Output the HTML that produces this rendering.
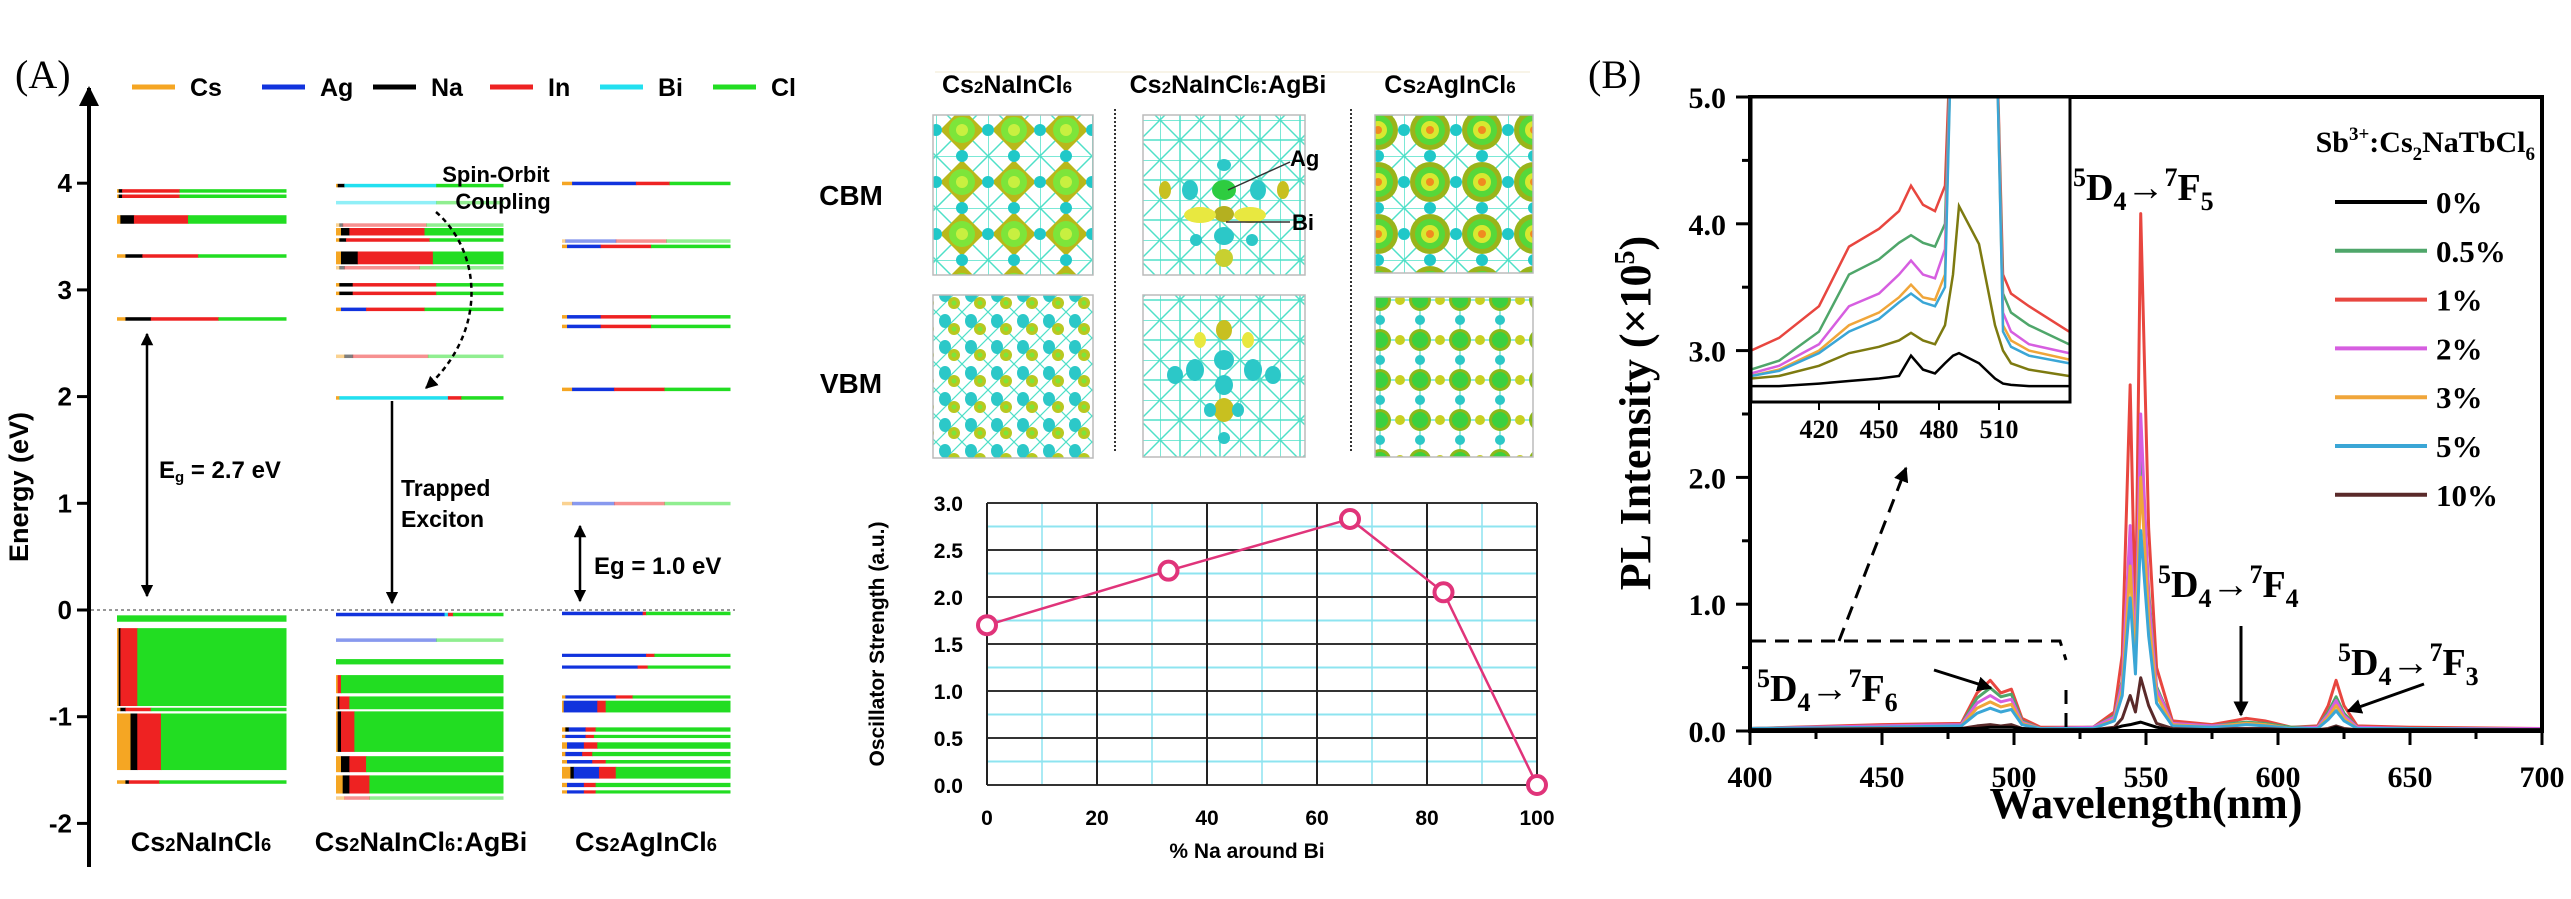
<!DOCTYPE html>
<html><head><meta charset="utf-8"><style>
html,body{margin:0;padding:0;background:#fff}
svg{display:block}
.a{font-family:"Liberation Sans",Arial,sans-serif;font-weight:bold}
.t{font-family:"Liberation Serif","Times New Roman",serif;font-weight:bold}
</style></head><body>
<svg id="fig" width="2571" height="899" viewBox="0 0 2571 899" xmlns="http://www.w3.org/2000/svg">
<defs>
<marker id="ah" viewBox="0 0 10 10" refX="9" refY="5" markerWidth="5" markerHeight="5" orient="auto-start-reverse"><path d="M0,0L10,5L0,10z" fill="#000"/></marker>
<pattern id="latt" width="40" height="40" patternUnits="userSpaceOnUse"><path d="M0 0H40M0 0V40M0 0L40 40M40 0L0 40M20 0V40M0 20H40" stroke="#4fe0c8" stroke-width="1.5" fill="none"/></pattern>
<pattern id="cbm1" width="52" height="52" patternUnits="userSpaceOnUse"><rect width="52" height="52" fill="#fff"/><path d="M0 0H52M0 0V52M0 0L52 52M52 0L0 52" stroke="#4fe0c8" stroke-width="1.5"/><path d="M26 4L48 26L26 48L4 26z" fill="#b9b81a"/><circle cx="26" cy="26" r="13" fill="#7de53a"/><circle cx="26" cy="26" r="6" fill="#c8f040"/><circle cx="0" cy="26" r="6" fill="#20c8c8"/><circle cx="52" cy="26" r="6" fill="#20c8c8"/><circle cx="26" cy="0" r="6" fill="#20c8c8"/><circle cx="26" cy="52" r="6" fill="#20c8c8"/></pattern>
<pattern id="vbm1" width="26" height="26" patternUnits="userSpaceOnUse"><rect width="26" height="26" fill="#fff"/><path d="M0 0L26 26M26 0L0 26" stroke="#4fe0c8" stroke-width="1.2"/><ellipse cx="9" cy="9" rx="6" ry="7" fill="#2cc8c8"/><ellipse cx="18" cy="17" rx="6" ry="6" fill="#b9c820"/><circle cx="18" cy="17" r="2.5" fill="#7de53a"/></pattern>
<pattern id="cbm3" width="52" height="52" patternUnits="userSpaceOnUse"><rect width="52" height="52" fill="#fff"/><path d="M0 0H52M0 0V52M0 0L52 52M52 0L0 52" stroke="#4fe0c8" stroke-width="1.5"/><circle cx="26" cy="26" r="20" fill="#9ab41a"/><circle cx="26" cy="26" r="15" fill="#56d83a"/><circle cx="26" cy="26" r="9" fill="#d8e830"/><circle cx="26" cy="26" r="4" fill="#f08a20"/><circle cx="0" cy="26" r="6" fill="#20c8c8"/><circle cx="52" cy="26" r="6" fill="#20c8c8"/><circle cx="26" cy="0" r="6" fill="#20c8c8"/><circle cx="26" cy="52" r="6" fill="#20c8c8"/></pattern>
<pattern id="vbm3" width="40" height="40" patternUnits="userSpaceOnUse"><rect width="40" height="40" fill="#fff"/><path d="M0 20H40M20 0V40" stroke="#4fe0c8" stroke-width="1.2"/><circle cx="20" cy="20" r="11" fill="#8cb81a"/><circle cx="20" cy="20" r="8" fill="#3cd040"/><circle cx="0" cy="20" r="5" fill="#c8d020"/><circle cx="40" cy="20" r="5" fill="#c8d020"/><circle cx="20" cy="0" r="5" fill="#2cc8c8"/><circle cx="20" cy="40" r="5" fill="#2cc8c8"/></pattern>
<clipPath id="insetClip"><rect x="1751" y="97" width="319" height="305"/></clipPath>
<clipPath id="mainClip"><rect x="1750" y="97" width="792" height="640"/></clipPath>
</defs>
<g id="panelA"></g>
<g id="panelM"></g>
<g id="panelB"></g>
</svg>
<script>
// ===== Panel A data =====
const aTicks = [-2,-1,0,1,2,3,4];
const legendNames = ["Cs","Ag","Na","In","Bi","Cl"];
const legendColors = ["#f5a623","#1133dd","#000000","#ee2222","#22e0f0","#22dd22"];
// level: [Etop, Ebot, cs, na, ag, bi, in, cl, opacity]
const col1Levels = [
[3.93,3.93,.01,.02,0,0,.34,.63,1],[3.88,3.88,.01,.02,0,0,.34,.63,1],[3.70,3.62,.02,.08,0,0,.32,.58,1],
[3.32,3.32,.05,.10,0,0,.33,.52,1],[2.73,2.73,.05,.15,0,0,.40,.40,1],
[-0.05,-0.11,0,0,0,0,0,1,1],[-0.17,-0.90,.01,.01,0,0,.10,.88,1],[-0.93,-0.93,.02,.03,0,0,.15,.80,1],
[-0.97,-1.50,.08,.04,0,0,.14,.74,1],[-1.61,-1.61,.05,.02,0,0,.18,.75,1]];
const col2Levels = [
[3.98,3.98,.01,.04,0,.55,0,.40,1],[3.82,3.82,0,0,0,.6,0,.4,.5],[3.61,3.61,.02,.02,0,0,.5,.46,.5],
[3.58,3.51,.03,.05,0,0,.45,.47,1],[3.47,3.47,.02,.04,0,0,.5,.44,1],[3.36,3.24,.03,.10,0,0,.45,.42,1],
[3.21,3.21,.02,.03,0,0,.45,.5,.5],[3.05,3.05,.02,.08,0,0,.5,.4,1],[2.97,2.97,.02,.08,0,0,.5,.4,1],
[2.82,2.82,.03,0,.15,0,.35,.47,1],[2.38,2.38,.05,.05,0,0,.45,.45,.5],[1.99,1.99,.02,0,0,.65,.08,.25,1],
[-0.04,-0.04,0,0,.65,.02,.03,.30,1],[-0.28,-0.28,0,0,.6,0,0,.4,.5],[-0.46,-0.51,0,0,0,0,0,1,1],
[-0.61,-0.78,.01,0,0,0,.02,.97,1],[-0.81,-0.93,.01,.01,0,0,.06,.92,1],[-0.95,-1.33,.01,.02,0,0,.08,.89,1],
[-1.37,-1.52,.03,.05,0,0,.1,.82,1],[-1.55,-1.72,.04,.04,0,0,.12,.8,1],[-1.76,-1.76,.05,0,0,0,.15,.8,.5]];
const col3Levels = [
[4.00,4.00,.06,0,.38,0,.2,.36,1],[3.46,3.46,.02,0,.3,0,.3,.38,.5],[3.41,3.41,.03,0,.2,0,.3,.47,1],
[2.75,2.75,.03,0,.2,0,.3,.47,1],[2.66,2.66,.03,0,.2,0,.3,.47,1],[2.07,2.07,.06,0,.25,0,.3,.39,1],
[1.00,1.00,.06,0,.25,0,.3,.39,.5],
[-0.03,-0.03,0,0,.48,0,.02,.5,1],[-0.41,-0.44,0,0,.5,0,.05,.45,1],[-0.52,-0.55,0,0,.45,0,.06,.49,1],
[-0.80,-0.83,.02,0,.3,0,.1,.58,1],[-0.85,-0.96,.01,0,.2,0,.05,.74,1],[-1.10,-1.14,.02,.02,.1,0,.06,.8,1],
[-1.17,-1.20,.02,0,.12,0,.05,.81,1],[-1.24,-1.30,.03,0,.1,0,.08,.79,1],[-1.33,-1.37,.02,0,.1,0,.06,.82,1],
[-1.42,-1.44,.03,0,.15,0,.08,.74,1],[-1.47,-1.58,.05,.02,.15,0,.1,.68,1],[-1.62,-1.66,.03,0,.1,0,.07,.8,1],
[-1.69,-1.72,.03,0,.1,0,.07,.8,1]];
const segColors = ["#f5a623","#000000","#1133dd","#22e0f0","#ee2222","#22dd22"];

// ===== Oscillator data =====
const oscX = [0,33,66,83,100];
const oscY = [1.7,2.28,2.83,2.05,0];
const oscXTicks = [0,20,40,60,80,100];
const oscYTicks = ["0.0","0.5","1.0","1.5","2.0","2.5","3.0"];

// ===== Panel B data =====
const wl = [400,450,480,486,491,495,499,503,510,530,538,541,544,546,548,551,554,560,575,583,588,595,605,615,619,622,625,630,650,700];
const s1 = [0.02,0.05,0.06,0.30,0.40,0.30,0.33,0.10,0.03,0.03,0.15,0.60,2.73,0.8,4.08,1.6,0.5,0.08,0.05,0.08,0.10,0.08,0.03,0.04,0.20,0.40,0.20,0.04,0.03,0.02];
const s05 = [0.02,0.04,0.05,0.26,0.34,0.27,0.29,0.08,0.02,0.03,0.12,0.40,1.55,0.6,2.35,1.1,0.35,0.06,0.04,0.06,0.07,0.06,0.03,0.03,0.15,0.27,0.14,0.03,0.02,0.02];
const s2 = [0.02,0.04,0.05,0.22,0.28,0.23,0.25,0.07,0.02,0.03,0.11,0.38,1.62,0.55,2.5,1.05,0.33,0.06,0.04,0.05,0.06,0.05,0.02,0.03,0.13,0.24,0.12,0.03,0.02,0.02];
const s3 = [0.02,0.03,0.04,0.18,0.23,0.19,0.21,0.06,0.02,0.02,0.09,0.32,1.30,0.5,2.0,0.9,0.28,0.05,0.03,0.05,0.06,0.05,0.02,0.02,0.11,0.20,0.10,0.02,0.02,0.01];
const s5 = [0.02,0.03,0.04,0.14,0.18,0.15,0.17,0.05,0.02,0.02,0.08,0.28,1.05,0.45,1.58,0.75,0.22,0.04,0.03,0.04,0.05,0.04,0.02,0.02,0.09,0.16,0.08,0.02,0.02,0.01];
const s10 = [0.01,0.02,0.02,0.04,0.05,0.04,0.05,0.02,0.01,0.01,0.03,0.10,0.28,0.15,0.42,0.2,0.06,0.02,0.01,0.02,0.02,0.02,0.01,0.01,0.02,0.04,0.02,0.01,0.01,0.01];
const s0 = [0.01,0.01,0.02,0.02,0.03,0.03,0.03,0.02,0.01,0.01,0.02,0.04,0.05,0.06,0.07,0.05,0.03,0.01,0.01,0.01,0.01,0.01,0.01,0.01,0.01,0.03,0.01,0.01,0.01,0.01];
const seriesLabels = ["0%","0.5%","1%","2%","3%","5%","10%"];
const seriesColors = ["#000000","#4fa66a","#e8463f","#d65ee0","#f0a63a","#3aa6d6","#5a2a2a"];
const bXTicks = [400,450,500,550,600,650,700];
const bYTicks = ["0.0","1.0","2.0","3.0","4.0","5.0"];
// inset
const iwl = [386,400,420,435,450,460,466,472,478,483,487,490,500,508,512,516,525,545];
const iRed = [3.0,3.1,3.35,3.82,3.96,4.1,4.3,4.15,4.1,4.3,6,6,6,6,3.6,3.45,3.35,3.15];
const iGreen = [2.85,2.92,3.15,3.6,3.72,3.85,3.91,3.85,3.82,4.0,6,6,6,6,3.45,3.3,3.2,3.05];
const iMag = [2.82,2.88,3.05,3.35,3.45,3.6,3.71,3.6,3.57,3.8,6,6,6,6,3.3,3.15,3.05,2.98];
const iOrange = [2.8,2.85,3.0,3.2,3.3,3.42,3.52,3.42,3.4,3.6,6,6,6,6,3.2,3.08,3.0,2.93];
const iCyan = [2.8,2.84,2.98,3.15,3.25,3.38,3.45,3.38,3.35,3.5,6,6,6,6,3.15,3.03,2.96,2.9];
const iOlive = [2.78,2.8,2.88,2.98,3.03,3.08,3.14,3.08,3.05,3.2,3.6,4.14,3.84,3.2,3.0,2.9,2.85,2.8];
const iBlack = [2.72,2.72,2.74,2.76,2.78,2.8,2.96,2.85,2.82,2.9,2.96,2.98,2.9,2.78,2.74,2.73,2.72,2.72];
const iTicks = [420,450,480,510];

const NS="http://www.w3.org/2000/svg";
function mk(parent,tag,attrs,text){const e=document.createElementNS(NS,tag);for(const k in attrs)e.setAttribute(k,attrs[k]);if(text!==undefined)e.textContent=text;parent.appendChild(e);return e;}

// ===== Panel A =====
const A=document.getElementById('panelA');


const yA=e=>610-106.7*e;
let t=mk(A,'text',{x:15,y:88,'font-family':'Liberation Serif,serif','font-size':40},'(A)');


let ax=mk(A,'line',{x1:89,y1:867,x2:89,y2:88,stroke:'#000','stroke-width':4,'marker-end':'url(#ah)'});


aTicks.forEach(v=>{
  const tk=mk(A,'line',{x1:77,x2:89,y1:yA(v),y2:yA(v),stroke:'#000','stroke-width':3});
  
  
  const tl=mk(A,'text',{x:72,y:yA(v)+9,'text-anchor':'end','font-size':26,class:'a'},String(v));
  
  
});
t=mk(A,'text',{x:0,y:0,transform:'translate(28,487) rotate(-90)','text-anchor':'middle','font-size':27,class:'a'},'Energy (eV)');


let zl=mk(A,'line',{x1:91,x2:735,y1:yA(0),y2:yA(0),stroke:'#777','stroke-width':1.5,'stroke-dasharray':'3,3'});


const legX=[132,262,373,490,600,713];
const legOrder=[0,1,2,3,4,5];
legOrder.forEach(i=>{
  const g=mk(A,'g',{});
  
  
  mk(g,'line',{x1:legX[i],x2:legX[i]+43,y1:87,y2:87,stroke:legendColors[i],'stroke-width':5});
  mk(g,'text',{x:legX[i]+58,y:96,'font-size':25,class:'a'},legendNames[i]);
});
function drawCol(levels,x0,x1,name){
  const g=mk(A,'g',{});
  
  
  const w=x1-x0;
  levels.forEach(L=>{
    let y0=yA(L[0]),y1=yA(L[1]);
    if(y1-y0<3){y0-=1.5;y1=y0+3.5;}
    let cx=x0;
    for(let k=0;k<6;k++){
      const fw=L[2+k]*w;
      if(fw>0){mk(g,'rect',{x:cx,y:y0,width:fw+0.5,height:y1-y0,fill:segColors[k],opacity:L[8]});}
      cx+=fw;
    }
  });
}
drawCol(col1Levels,117,286,'levels-cs2naincl6');
drawCol(col2Levels,336,503,'levels-cs2naincl6-agbi');
drawCol(col3Levels,562,730,'levels-cs2agincl6');
function sub(parent,x,y,parts,size,anchor,name){
  const tx=mk(parent,'text',{x:x,y:y,'font-size':size,class:'a','text-anchor':anchor||'middle'});
  
  
  parts.forEach(p=>{const s=mk(tx,'tspan',{},p[0]);if(p[1])s.setAttribute('font-size',size*0.68);});
  return tx;
}
sub(A,201,851,[["Cs"],["2",1],["NaInCl"],["6",1]],27,'middle','label-cs2naincl6');
sub(A,421,851,[["Cs"],["2",1],["NaInCl"],["6",1],[":AgBi"]],27,'middle','label-cs2naincl6-agbi');
sub(A,646,851,[["Cs"],["2",1],["AgInCl"],["6",1]],27,'middle','label-cs2agincl6');
let ar=mk(A,'line',{x1:147,x2:147,y1:334,y2:596,stroke:'#000','stroke-width':2.5,'marker-start':'url(#ah)','marker-end':'url(#ah)'});


t=mk(A,'text',{x:159,y:478,'font-size':24,class:'a'},'');


mk(t,'tspan',{},'E');mk(t,'tspan',{'font-size':15,dy:4},'g');mk(t,'tspan',{dy:-4},' = 2.7 eV');
ar=mk(A,'line',{x1:392,x2:392,y1:401,y2:603,stroke:'#000','stroke-width':2.5,'marker-end':'url(#ah)'});


t=mk(A,'text',{x:401,y:496,'font-size':23,class:'a'},'Trapped');


t=mk(A,'text',{x:401,y:527,'font-size':23,class:'a'},'Exciton');


t=mk(A,'text',{x:496,y:182,'font-size':22,class:'a','text-anchor':'middle'},'Spin-Orbit');


t=mk(A,'text',{x:503,y:209,'font-size':22,class:'a','text-anchor':'middle'},'Coupling');


ar=mk(A,'path',{d:'M436,212 C480,250 490,330 426,388',fill:'none',stroke:'#000','stroke-width':2.5,'stroke-dasharray':'5,4','marker-end':'url(#ah)'});


ar=mk(A,'line',{x1:580,x2:580,y1:526,y2:601,stroke:'#000','stroke-width':2.5,'marker-start':'url(#ah)','marker-end':'url(#ah)'});


t=mk(A,'text',{x:594,y:574,'font-size':24,class:'a'},'Eg = 1.0 eV');



// ===== Middle panel =====
const M=document.getElementById('panelM');


mk(M,'line',{x1:935,x2:1530,y1:72,y2:72,stroke:'#f0ead0','stroke-width':1});
sub(M,1007,93,[["Cs"],["2",1],["NaInCl"],["6",1]],25,'middle','density-title-1');
sub(M,1228,93,[["Cs"],["2",1],["NaInCl"],["6",1],[":AgBi"]],25,'middle','density-title-2');
sub(M,1450,93,[["Cs"],["2",1],["AgInCl"],["6",1]],25,'middle','density-title-3');
t=mk(M,'text',{x:851,y:205,'font-size':28,class:'a','text-anchor':'middle'},'CBM');


t=mk(M,'text',{x:851,y:393,'font-size':28,class:'a','text-anchor':'middle'},'VBM');


[[1115],[1351]].forEach((d,i)=>{const l=mk(M,'line',{x1:d[0],x2:d[0],y1:109,y2:453,stroke:'#333','stroke-width':2,'stroke-dasharray':'2,2'});

});
const boxes=[[933,115,160,160,'url(#cbm1)','cbm-density-cs2naincl6'],[933,295,160,163,'url(#vbm1)','vbm-density-cs2naincl6'],
[1375,115,158,158,'url(#cbm3)','cbm-density-cs2agincl6'],[1375,297,158,160,'url(#vbm3)','vbm-density-cs2agincl6'],
[1143,115,162,160,'url(#latt)','cbm-density-agbi'],[1143,295,162,162,'url(#latt)','vbm-density-agbi']];
boxes.forEach(b=>{const r=mk(M,'rect',{x:b[0],y:b[1],width:b[2],height:b[3],fill:b[4],stroke:'#bbb','stroke-width':1.5});

});
// AgBi blobs
const blob=(cx,cy,rx,ry,f)=>mk(M,'ellipse',{cx:cx,cy:cy,rx:rx,ry:ry,fill:f});
[[1224,190,12,10,'#2ecc40'],[1224,214,10,8,'#b4b020'],[1224,236,10,9,'#2cc8c8'],[1190,190,8,10,'#2cc8c8'],[1258,190,8,10,'#2cc8c8'],[1165,190,6,9,'#c8c020'],[1283,190,6,9,'#c8c020'],[1200,215,16,8,'#e8e840'],[1250,215,16,8,'#e8e840'],[1224,258,9,9,'#c8d030'],[1224,165,7,6,'#2cc8c8'],[1196,240,6,6,'#2cc8c8'],[1252,240,6,6,'#2cc8c8']].forEach(b=>blob(...b));
[[1224,330,8,10,'#c8c020'],[1224,360,10,10,'#2cc8c8'],[1224,385,9,10,'#2cc8c8'],[1224,410,10,12,'#c8c020'],[1195,370,9,11,'#2cc8c8'],[1253,370,9,11,'#2cc8c8'],[1175,375,8,9,'#2cc8c8'],[1273,375,8,9,'#2cc8c8'],[1200,340,6,8,'#e8e840'],[1248,340,6,8,'#e8e840'],[1210,410,6,7,'#2cc8c8'],[1238,410,6,7,'#2cc8c8'],[1224,438,6,6,'#2cc8c8']].forEach(b=>blob(...b));
mk(M,'line',{x1:1228,y1:190,x2:1290,y2:162,stroke:'#333','stroke-width':1.5});
mk(M,'line',{x1:1226,y1:222,x2:1290,y2:222,stroke:'#333','stroke-width':1.5});
t=mk(M,'text',{x:1290,y:166,'font-size':22,class:'a'},'Ag');


t=mk(M,'text',{x:1292,y:230,'font-size':22,class:'a'},'Bi');



// oscillator chart
const xO=v=>987+5.5*v, yO=v=>785-94*v;
const grid=mk(M,'g',{});


for(let v=10;v<100;v+=20) mk(grid,'line',{x1:xO(v),x2:xO(v),y1:yO(3),y2:yO(0),stroke:'#8ee4f0','stroke-width':1.5});
for(let v=0.25;v<3;v+=0.5) mk(grid,'line',{x1:xO(0),x2:xO(100),y1:yO(v),y2:yO(v),stroke:'#8ee4f0','stroke-width':2});
oscYTicks.forEach(s=>{const v=parseFloat(s);mk(grid,'line',{x1:xO(0),x2:xO(100),y1:yO(v),y2:yO(v),stroke:'#333','stroke-width':2});
 const tl=mk(M,'text',{x:963,y:yO(v)+8,'text-anchor':'end','font-size':21,class:'a'},s);
 
 });
oscXTicks.forEach(v=>{mk(grid,'line',{x1:xO(v),x2:xO(v),y1:yO(3),y2:yO(0),stroke:'#222','stroke-width':2});
 const tl=mk(M,'text',{x:xO(v),y:825,'text-anchor':'middle','font-size':21,class:'a'},String(v));
 
 });
t=mk(M,'text',{x:1247,y:858,'text-anchor':'middle','font-size':21,class:'a'},'% Na around Bi');


t=mk(M,'text',{x:0,y:0,transform:'translate(884,644) rotate(-90)','text-anchor':'middle','font-size':21,class:'a'},'Oscillator Strength (a.u.)');


let pts=oscX.map((x,i)=>xO(x)+','+yO(oscY[i])).join(' ');
let pl=mk(M,'polyline',{points:pts,fill:'none',stroke:'#e0347a','stroke-width':2.5});


oscX.forEach((x,i)=>{const c=mk(M,'circle',{cx:xO(x),cy:yO(oscY[i]),r:9,fill:'#fff',stroke:'#e0347a','stroke-width':4});
 
 });

// ===== Panel B =====
const B=document.getElementById('panelB');


const xB=w=>1750+(w-400)*2.64, yB=v=>731-126.8*v;
t=mk(B,'text',{x:1588,y:88,'font-family':'Liberation Serif,serif','font-size':40},'(B)');


const allS=[s1,s05,s2,s3,s5,s10,s0];
const allC=["#e8463f","#4fa66a","#d65ee0","#f0a63a","#3aa6d6","#5a2a2a","#000000"];
const sg=mk(B,'g',{'clip-path':'url(#mainClip)'});


allS.forEach((s,k)=>{const p=mk(sg,'polyline',{points:wl.map((w,i)=>xB(w)+','+yB(s[i])).join(' '),fill:'none',stroke:allC[k],'stroke-width':3,'stroke-linejoin':'round'});
 
 });
let fr=mk(B,'rect',{x:1750,y:97,width:792,height:634,fill:'none',stroke:'#000','stroke-width':4});


bXTicks.forEach(w=>{mk(B,'line',{x1:xB(w),x2:xB(w),y1:731,y2:745,stroke:'#000','stroke-width':3});
 if(w<700) mk(B,'line',{x1:xB(w+25),x2:xB(w+25),y1:731,y2:739,stroke:'#000','stroke-width':3});
 const tl=mk(B,'text',{x:xB(w),y:787,'text-anchor':'middle','font-size':30,class:'t'},String(w));
 
 });
bYTicks.forEach(s=>{const v=parseFloat(s);mk(B,'line',{x1:1736,x2:1750,y1:yB(v),y2:yB(v),stroke:'#000','stroke-width':3});
 if(v<5) mk(B,'line',{x1:1742,x2:1750,y1:yB(v+0.5),y2:yB(v+0.5),stroke:'#000','stroke-width':3});
 const tl=mk(B,'text',{x:1726,y:yB(v)+11,'text-anchor':'end','font-size':30,class:'t'},s);
 
 });
t=mk(B,'text',{x:2146,y:818,'text-anchor':'middle','font-size':44,class:'t'},'Wavelength(nm)');


t=mk(B,'text',{x:0,y:0,transform:'translate(1650,413) rotate(-90)','text-anchor':'middle','font-size':44,class:'t'},'');


mk(t,'tspan',{},'PL Intensity (×10');mk(t,'tspan',{'font-size':28,dy:-16},'5');mk(t,'tspan',{dy:16},')');
// inset
const xI=w=>1819+(w-420)*2;
let ib=mk(B,'rect',{x:1751,y:97,width:319,height:305,fill:'#fff',stroke:'#000','stroke-width':3});


const ig=mk(B,'g',{'clip-path':'url(#insetClip)'});


const insS=[iRed,iGreen,iMag,iOrange,iCyan,iOlive,iBlack];
const insC=["#e8463f","#4fa66a","#d65ee0","#f0a63a","#3aa6d6","#7d7a10","#000000"];
insS.forEach((s,k)=>{const p=mk(ig,'polyline',{points:iwl.map((w,i)=>xI(w)+','+yB(s[i])).join(' '),fill:'none',stroke:insC[k],'stroke-width':2.5});
 
 });
mk(B,'rect',{x:1751,y:97,width:319,height:305,fill:'none',stroke:'#000','stroke-width':3});
iTicks.forEach(w=>{mk(B,'line',{x1:xI(w),x2:xI(w),y1:402,y2:410,stroke:'#000','stroke-width':2});
 const tl=mk(B,'text',{x:xI(w),y:438,'text-anchor':'middle','font-size':26,class:'t'},String(w));
 
 });
// legend
t=mk(B,'text',{x:2535,y:152,'text-anchor':'end','font-size':30,class:'t'},'');


mk(t,'tspan',{},'Sb');mk(t,'tspan',{'font-size':19,dy:-12},'3+');mk(t,'tspan',{dy:12},':Cs');mk(t,'tspan',{'font-size':19,dy:8},'2');mk(t,'tspan',{dy:-8},'NaTbCl');mk(t,'tspan',{'font-size':19,dy:8},'6');
seriesLabels.forEach((s,i)=>{const y=202+48.8*i;const g=mk(B,'g',{});
 
 
 mk(g,'line',{x1:2335,x2:2427,y1:y,y2:y,stroke:seriesColors[i],'stroke-width':4});
 mk(g,'text',{x:2436,y:y+11,'font-size':31,class:'t'},s);});
function trans(x,y,lo,up,name){const tx=mk(B,'text',{x:x,y:y,'font-size':38,class:'t'});
 
 
 mk(tx,'tspan',{'font-size':26,dy:-14},'5');mk(tx,'tspan',{dy:14},'D');mk(tx,'tspan',{'font-size':26,dy:10},'4');
 mk(tx,'tspan',{dy:-10},'→');mk(tx,'tspan',{'font-size':26,dy:-14},'7');mk(tx,'tspan',{dy:14},'F');mk(tx,'tspan',{'font-size':26,dy:10},up);}
trans(2073,200,'5','5','transition-f5');
trans(2158,597,'5','4','transition-f4');
trans(2338,675,'5','3','transition-f3');
trans(1757,701,'5','6','transition-f6');
[[1934,670,1991,688,'arrow-f6'],[2241,626,2241,715,'arrow-f4'],[2424,684,2348,711,'arrow-f3']].forEach(a=>{const l=mk(B,'line',{x1:a[0],y1:a[1],x2:a[2],y2:a[3],stroke:'#000','stroke-width':3,'marker-end':'url(#ah)'});
 
 });
let db=mk(B,'path',{d:'M1752,641 H2060 L2066,660 M2066,690 V731',fill:'none',stroke:'#000','stroke-width':3,'stroke-dasharray':'14,9'});


let da=mk(B,'line',{x1:1839,y1:641,x2:1906,y2:468,stroke:'#000','stroke-width':3,'stroke-dasharray':'14,9','marker-end':'url(#ah)'});


</script>
</body></html>
